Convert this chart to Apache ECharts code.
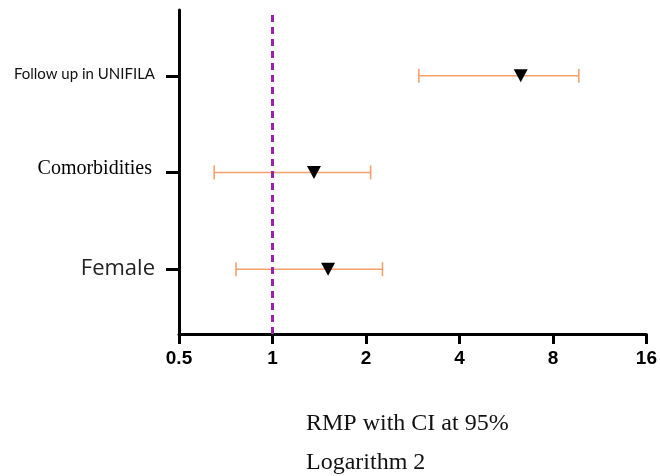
<!DOCTYPE html>
<html>
<head>
<meta charset="utf-8">
<script src="https://cdn.jsdelivr.net/npm/echarts@6/dist/echarts.min.js"></script>
<style>html,body{margin:0;padding:0;background:#fff;}#c{width:660px;height:476px;}</style>
</head>
<body>
<div id="c"></div>
<script>
// Categories bottom to top (y position 1,2,3)
const categories = ['Female', 'Comorbidities', 'Follow up in UNIFILA'];
const estimates = [1.51, 1.36, 6.3];
const lowerCI = [0.763, 0.649, 2.96];
const upperCI = [2.26, 2.07, 9.69];
const xTicks = [0.5, 1, 2, 4, 8, 16];
const refValue = 1;

const labelStyles = ['fem', 'com', 'fol'];
const yPos = categories.map((c, i) => i + 1);

const chart = echarts.init(document.getElementById('c'), null, {renderer: 'canvas'});

const errData = categories.map((c, i) => [yPos[i], lowerCI[i], upperCI[i]]);
const ptData = categories.map((c, i) => [estimates[i], yPos[i]]);

chart.setOption({
  animation: false,
  backgroundColor: '#fff',
  grid: {left: 179, right: 13, top: 10, bottom: 142, containLabel: false},
  xAxis: {
    type: 'log', logBase: 2, min: xTicks[0], max: xTicks[xTicks.length - 1],
    axisLine: {show: true, lineStyle: {color: '#000', width: 3}},
    axisTick: {show: true, length: 10, lineStyle: {color: '#000', width: 3}},
    axisLabel: {
      margin: 15, color: '#000', fontWeight: 'bold', fontSize: 19,
      fontFamily: 'Liberation Sans, Arial, sans-serif',
      formatter: v => String(+v.toFixed(3))
    },
    splitLine: {show: false}, minorTick: {show: false}
  },
  yAxis: {
    type: 'value', min: 0.33, max: 3.68,
    axisLine: {show: true, lineStyle: {color: '#000', width: 3}},
    axisTick: {show: true, length: 13, lineStyle: {color: '#000', width: 3}, customValues: yPos},
    axisLabel: {
      customValues: yPos, margin: 24, color: '#111',
      formatter: v => {
        const i = Math.round(v) - 1;
        return '{' + labelStyles[i] + '|' + categories[i] + '}';
      },
      rich: {
        fem: {fontFamily: 'Open Sans, sans-serif', fontSize: 22, color: '#222'},
        com: {fontFamily: 'Liberation Serif, Times New Roman, serif', fontSize: 20, color: '#000', padding: [0, 3, 8, 0]},
        fol: {fontFamily: 'Lato, sans-serif', fontSize: 15, color: '#111', padding: [0, 0, 3, 0]}
      }
    },
    splitLine: {show: false}
  },
  series: [
    {
      type: 'custom',
      data: errData,
      encode: {x: [1, 2], y: 0},
      z: 2,
      renderItem: (params, api) => {
        const y = api.value(0);
        const a = api.coord([api.value(1), y]);
        const b = api.coord([api.value(2), y]);
        const h = 7;
        const st = {stroke: '#F8A06C', lineWidth: 1.6};
        return {
          type: 'group',
          children: [
            {type: 'line', shape: {x1: a[0], y1: a[1], x2: b[0], y2: b[1]}, style: st},
            {type: 'line', shape: {x1: a[0], y1: a[1] - h, x2: a[0], y2: a[1] + h}, style: st},
            {type: 'line', shape: {x1: b[0], y1: b[1] - h, x2: b[0], y2: b[1] + h}, style: st}
          ]
        };
      }
    },
    {
      type: 'scatter',
      data: ptData,
      symbol: 'triangle',
      symbolRotate: 180,
      symbolSize: [14, 13],
      itemStyle: {color: '#000', opacity: 1},
      z: 3,
      markLine: {
        silent: true,
        symbol: 'none',
        label: {show: false},
        lineStyle: {color: '#9A22AA', type: [7, 5], width: 3, opacity: 1},
        data: [{xAxis: refValue}]
      }
    }
  ],
  graphic: [
    {type: 'text', left: 306, top: 412, style: {text: 'RMP with CI at 95%', font: '24px "Liberation Serif", "Times New Roman", serif', fill: '#111'}},
    {type: 'text', left: 306, top: 451, style: {text: 'Logarithm 2', font: '24px "Liberation Serif", "Times New Roman", serif', fill: '#111'}}
  ]
});
</script>
</body>
</html>
